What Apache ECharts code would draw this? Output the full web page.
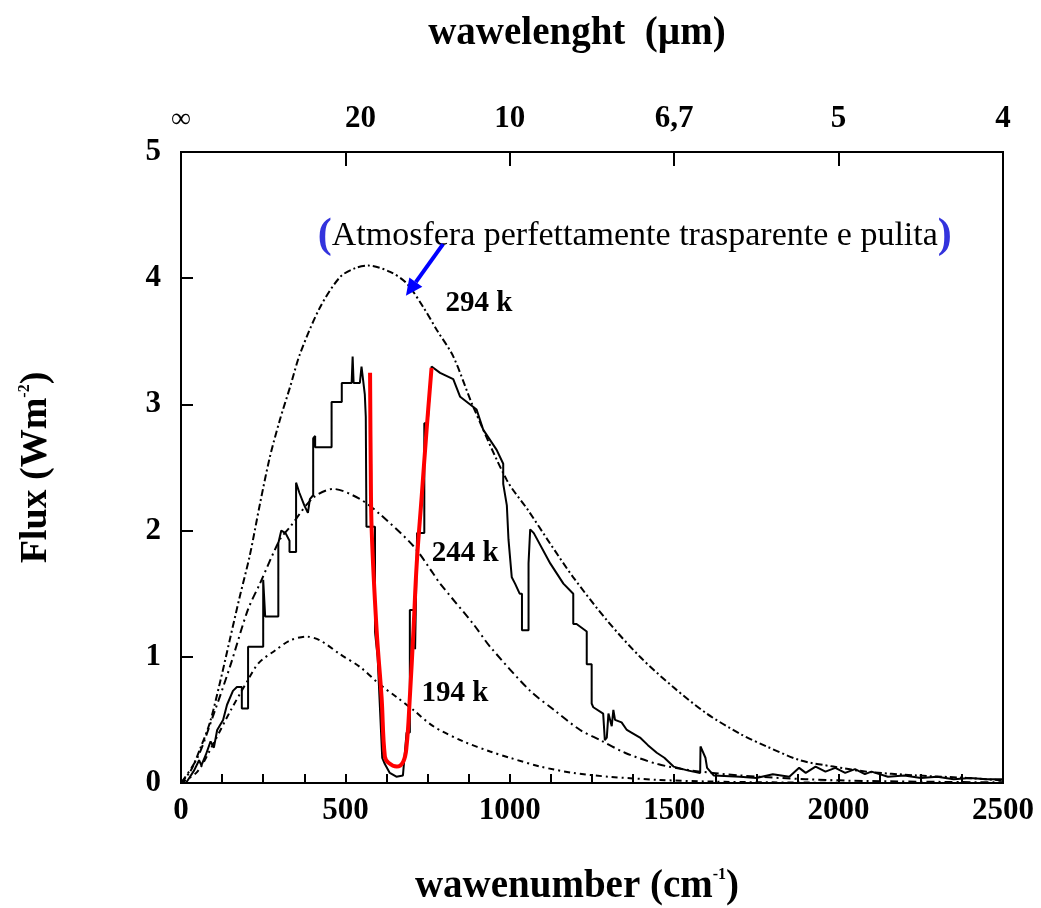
<!DOCTYPE html>
<html>
<head>
<meta charset="utf-8">
<script src="https://cdn.jsdelivr.net/npm/echarts@6/dist/echarts.min.js"></script>
<style>
html,body{margin:0;padding:0;background:#fff;}
#chart{width:1041px;height:908px;}
</style>
</head>
<body>
<div id="chart"></div>
<script>
// ---------- data ----------
const bottomTickValues = [0, 500, 1000, 1500, 2000, 2500];
const topTickLabels = ['∞', '20', '10', '6,7', '5', '4'];

// 294 K Planck curve
const nu294 = [0, 30, 58, 88, 118, 148, 179, 209, 240, 270, 301, 332, 362, 423, 484, 530, 570, 636, 686, 737, 778, 828, 889, 991, 1056, 1122, 1193, 1295, 1396, 1497, 1599, 1700, 1781, 1883, 1984, 2085, 2237, 2390, 2500];
const flux294 = [0, 0.10, 0.27, 0.48, 0.79, 1.13, 1.48, 1.80, 2.21, 2.58, 2.88, 3.14, 3.40, 3.77, 4.01, 4.08, 4.10, 4.05, 3.96, 3.77, 3.59, 3.38, 2.98, 2.40, 2.16, 1.90, 1.63, 1.29, 1.00, 0.76, 0.55, 0.39, 0.29, 0.18, 0.13, 0.09, 0.06, 0.04, 0.02];

// 244 K Planck curve
const nu244 = [0, 50, 100, 150, 203, 240, 301, 332, 402, 463, 544, 605, 706, 767, 788, 889, 940, 1062, 1134, 1214, 1275, 1350, 1450, 1550, 1700, 1900, 2100, 2500];
const flux244 = [0, 0.20, 0.55, 0.93, 1.37, 1.58, 1.93, 2.03, 2.26, 2.33, 2.25, 2.13, 1.88, 1.66, 1.58, 1.26, 1.08, 0.73, 0.58, 0.42, 0.34, 0.24, 0.15, 0.10, 0.06, 0.03, 0.015, 0.005];

// 194 K Planck curve
const nu194 = [0, 50, 100, 150, 200, 236, 286, 332, 383, 423, 484, 544, 605, 656, 706, 767, 858, 940, 1000, 1093, 1193, 1300, 1450, 1600, 1800, 2000];
const flux194 = [0, 0.09, 0.32, 0.57, 0.80, 0.95, 1.05, 1.13, 1.16, 1.13, 1.02, 0.92, 0.78, 0.68, 0.58, 0.45, 0.33, 0.25, 0.20, 0.13, 0.08, 0.05, 0.025, 0.012, 0.005, 0.002];

// measured spectrum (stepped)
const specNu = [15, 25, 40, 55, 62, 75, 90, 100, 110, 128, 140, 158, 170, 185, 185, 204, 204, 250, 250, 256, 256, 296, 296, 305, 318, 330, 330, 350, 350, 360, 375, 386, 392, 402, 402, 408, 408, 458, 458, 489, 489, 519, 522, 525, 544, 549, 554, 559, 562, 564, 590, 590, 598, 605, 612, 620, 635, 655, 675, 686, 696, 696, 712, 712, 718, 718, 740, 740, 750, 762, 788, 828, 849, 899, 919, 960, 980, 980, 991, 996, 1006, 1016, 1030, 1037, 1037, 1057, 1057, 1062, 1073, 1123, 1163, 1193, 1193, 1203, 1234, 1234, 1249, 1249, 1254, 1284, 1289, 1295, 1300, 1310, 1315, 1320, 1340, 1356, 1370, 1396, 1420, 1447, 1470, 1498, 1540, 1579, 1580, 1595, 1600, 1620, 1700, 1750, 1800, 1850, 1880, 1900, 1930, 1960, 1990, 2020, 2050, 2080, 2100, 2150, 2200, 2250, 2300, 2350, 2400, 2450, 2500];
const specFlux = [0.00, 0.04, 0.10, 0.18, 0.14, 0.22, 0.33, 0.28, 0.42, 0.50, 0.62, 0.73, 0.76, 0.76, 0.59, 0.59, 1.08, 1.08, 1.61, 1.61, 1.32, 1.32, 1.90, 2.00, 1.98, 1.92, 1.83, 1.83, 2.38, 2.30, 2.20, 2.14, 2.25, 2.28, 2.73, 2.75, 2.66, 2.66, 3.02, 3.02, 3.17, 3.17, 3.38, 3.17, 3.17, 3.30, 3.30, 3.08, 2.90, 2.03, 2.03, 1.20, 1.00, 0.60, 0.20, 0.15, 0.08, 0.05, 0.06, 0.40, 0.40, 1.37, 1.37, 1.06, 1.06, 1.98, 1.98, 2.85, 2.85, 3.30, 3.25, 3.20, 3.06, 2.96, 2.80, 2.64, 2.53, 2.37, 2.20, 1.93, 1.63, 1.58, 1.50, 1.50, 1.21, 1.21, 1.74, 2.01, 1.98, 1.74, 1.58, 1.50, 1.26, 1.26, 1.20, 0.94, 0.94, 0.63, 0.60, 0.55, 0.34, 0.36, 0.55, 0.45, 0.58, 0.50, 0.48, 0.42, 0.40, 0.36, 0.30, 0.24, 0.20, 0.13, 0.10, 0.08, 0.29, 0.20, 0.12, 0.06, 0.05, 0.04, 0.07, 0.05, 0.12, 0.08, 0.13, 0.09, 0.12, 0.08, 0.11, 0.07, 0.09, 0.05, 0.06, 0.04, 0.05, 0.03, 0.04, 0.03, 0.03];

// red hand-drawn curve
const redNu = [575, 577, 580, 595, 610, 620, 631, 656, 676, 686, 696, 707, 717, 732, 747, 762];
const redFlux = [3.25, 2.53, 2.00, 1.21, 0.68, 0.21, 0.16, 0.13, 0.17, 0.29, 0.68, 1.21, 1.74, 2.27, 2.80, 3.29];

// annotation texts and their anchor points (data coordinates)
const curveLabels = ['294 k', '244 k', '194 k'];
const curveLabelPos = [[906, 3.80], [864, 1.82], [833, 0.71]];
const noteText = 'Atmosfera perfettamente trasparente e pulita';
const notePos = [416, 4.33];
const arrowFrom = [797, 4.27];
const arrowTo = [684, 3.86];

// ---------- chart ----------
const SERIF = '"Liberation Serif", "DejaVu Serif", serif';
const zip = (a, b) => a.map((v, i) => [v, b[i]]);
const chart = echarts.init(document.getElementById('chart'), null, {renderer: 'canvas'});

const tickFont = {fontFamily: SERIF, fontWeight: 'bold', fontSize: 31, color: '#000'};

const option = {
  animation: false,
  backgroundColor: '#fff',
  grid: {left: 181, right: 38, top: 152, bottom: 125, containLabel: false, outerBoundsMode: 'none',
    show: true, borderColor: '#000', borderWidth: 2, backgroundColor: 'transparent'},
  xAxis: [
    {
      type: 'value', position: 'bottom', min: 0, max: 2500, interval: 125,
      name: '{t|wawenumber (cm}{s|-1}{t|)}', nameLocation: 'middle', nameGap: 84,
      nameTextStyle: {padding: [0, 30, 0, 0], rich: {
        t: {fontFamily: SERIF, fontWeight: 'bold', fontSize: 39, color: '#000'},
        s: {fontFamily: SERIF, fontWeight: 'bold', fontSize: 16, color: '#000', verticalAlign: 'top', padding: [0, 0, 18, 0]}
      }},
      axisLine: {show: true, lineStyle: {color: '#000', width: 2}},
      axisTick: {show: true, inside: true, length: 9, lineStyle: {color: '#000', width: 2}},
      axisLabel: Object.assign({
        margin: 12, showMinLabel: true, showMaxLabel: true, interval: 0,
        formatter: function (v) { return bottomTickValues.indexOf(v) >= 0 ? String(v) : ''; }
      }, tickFont),
      splitLine: {show: false}
    },
    {
      type: 'value', position: 'top', min: 0, max: 2500, interval: 500,
      name: 'wawelenght  (µm)', nameLocation: 'middle', nameGap: 99,
      nameTextStyle: {fontFamily: SERIF, fontWeight: 'bold', fontSize: 39, color: '#000', padding: [0, 30, 0, 0]},
      axisLine: {show: true, lineStyle: {color: '#000', width: 2}},
      axisTick: {show: true, inside: true, length: 14, lineStyle: {color: '#000', width: 2}},
      axisLabel: {
        margin: 18,
        formatter: function (v) {
          const i = bottomTickValues.indexOf(v);
          if (i < 0) return '';
          if (i === 0) return '{inf|' + topTickLabels[i] + '}';
          if (i === 1) return '{sh|' + topTickLabels[i] + '}';
          return '{n|' + topTickLabels[i] + '}';
        },
        rich: {
          inf: {fontFamily: SERIF, fontSize: 28, color: '#000'},
          sh: Object.assign({padding: [0, 0, 0, 30]}, tickFont),
          n: tickFont
        }
      },
      splitLine: {show: false}
    }
  ],
  yAxis: {
    type: 'value', min: 0, max: 5, interval: 1,
    name: '{t|Flux (Wm}{s|-2}{t|)}', nameLocation: 'middle', nameGap: 126, nameRotate: 90,
    nameTextStyle: {rich: {
      t: {fontFamily: SERIF, fontWeight: 'bold', fontSize: 38, color: '#000'},
      s: {fontFamily: SERIF, fontWeight: 'bold', fontSize: 16, color: '#000', verticalAlign: 'top', padding: [0, 0, 18, 0]}
    }},
    axisLine: {show: true, lineStyle: {color: '#000', width: 2}},
    axisTick: {show: true, inside: true, length: 12, lineStyle: {color: '#000', width: 2}},
    axisLabel: Object.assign({margin: 20}, tickFont),
    splitLine: {show: false}
  },
  series: [
    {name: '294 K', type: 'line', data: zip(nu294, flux294), showSymbol: false, smooth: 0.3, z: 2,
      lineStyle: {color: '#000', width: 2, type: [7, 3, 2, 3]}},
    {name: '244 K', type: 'line', data: zip(nu244, flux244), showSymbol: false, smooth: 0.3, z: 2,
      lineStyle: {color: '#000', width: 2, type: [8, 4, 2, 4]}},
    {name: '194 K', type: 'line', data: zip(nu194, flux194), showSymbol: false, smooth: 0.3, z: 2,
      lineStyle: {color: '#000', width: 2, type: [6, 4, 2, 4]}},
    {name: 'spectrum', type: 'line', data: zip(specNu, specFlux), showSymbol: false, z: 3,
      lineStyle: {color: '#000', width: 2}},
    {name: 'red', type: 'line', data: zip(redNu, redFlux), showSymbol: false, smooth: 0.4, z: 5,
      lineStyle: {color: '#ff0000', width: 4}}
  ]
};
chart.setOption(option);

// annotations placed from data coordinates
const px = p => chart.convertToPixel({xAxisIndex: 0, yAxisIndex: 0}, p);
const graphics = [];
curveLabels.forEach((t, i) => {
  const p = px(curveLabelPos[i]);
  graphics.push({type: 'text', x: p[0], y: p[1], z: 10,
    style: {text: t, fontFamily: SERIF, fontWeight: 'bold', fontSize: 29, fill: '#000', align: 'center', verticalAlign: 'middle'}});
});
const np = px(notePos);
graphics.push({type: 'text', x: np[0], y: np[1], z: 10,
  style: {
    text: '{p|(}{t|' + noteText + '}{p|)}', align: 'left', verticalAlign: 'middle',
    rich: {
      p: {fontFamily: SERIF, fontSize: 42, fill: '#3333dd', fontWeight: 'bold'},
      t: {fontFamily: SERIF, fontSize: 34, fill: '#000'}
    }
  }});
const a0 = px(arrowFrom), a1 = px(arrowTo);
const dx = a1[0] - a0[0], dy = a1[1] - a0[1], len = Math.hypot(dx, dy);
const ux = dx / len, uy = dy / len, hl = 17, hw = 8;
const bx = a1[0] - ux * hl, by = a1[1] - uy * hl;
graphics.push({type: 'line', z: 11, shape: {x1: a0[0], y1: a0[1], x2: bx, y2: by}, style: {stroke: '#0000ff', lineWidth: 4}});
graphics.push({type: 'polygon', z: 11, shape: {points: [[a1[0], a1[1]], [bx - uy * hw, by + ux * hw], [bx + uy * hw, by - ux * hw]]}, style: {fill: '#0000ff'}});
chart.setOption({graphic: graphics});
</script>
</body>
</html>
